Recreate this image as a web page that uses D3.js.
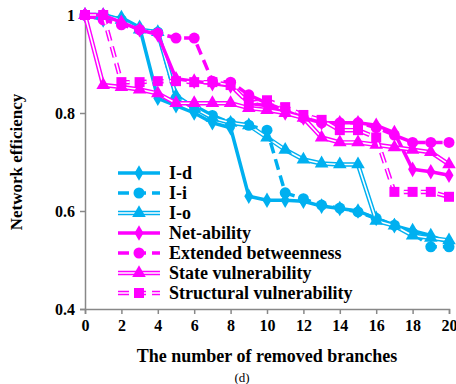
<!DOCTYPE html>
<html>
<head>
<meta charset="utf-8">
<script src="https://cdn.jsdelivr.net/npm/d3@7"></script>
<style>
  body { margin: 0; background: #fff; }
</style>
</head>
<body>
<div id="chart"></div>
<script>
// data
const steps = d3.range(0, 21);
const xTicks = [0, 2, 4, 6, 8, 10, 12, 14, 16, 18, 20];
const yTicks = [0.4, 0.6, 0.8, 1];
const seriesNames = ['I-d', 'I-i', 'I-o', 'Net-ability', 'Extended betweenness', 'State vulnerability', 'Structural vulnerability'];

const iD = [1, 0.99, 0.995, 0.975, 0.83, 0.815, 0.8, 0.78, 0.77, 0.63, 0.622, 0.622, 0.62, 0.61, 0.605, 0.6, 0.585, 0.57, 0.56, 0.55, 0.535];
const iI = [1, 1, 0.99, 0.97, 0.965, 0.83, 0.815, 0.795, 0.78, 0.775, 0.765, 0.637, 0.625, 0.612, 0.606, 0.598, 0.585, 0.571, 0.555, 0.527, 0.527];
const iO = [1, 1, 0.99, 0.97, 0.965, 0.835, 0.81, 0.79, 0.78, 0.775, 0.75, 0.725, 0.705, 0.697, 0.695, 0.695, 0.58, 0.57, 0.55, 0.545, 0.54];
const netAbility = [1, 1, 0.985, 0.97, 0.96, 0.87, 0.865, 0.86, 0.855, 0.82, 0.815, 0.8, 0.79, 0.78, 0.78, 0.78, 0.775, 0.76, 0.685, 0.68, 0.673];
const extBetween = [1, 0.99, 0.98, 0.97, 0.963, 0.953, 0.953, 0.865, 0.863, 0.837, 0.82, 0.805, 0.79, 0.78, 0.78, 0.78, 0.77, 0.755, 0.74, 0.74, 0.74];
const stateVuln = [1, 0.857, 0.853, 0.848, 0.84, 0.82, 0.82, 0.82, 0.82, 0.81, 0.806, 0.8, 0.79, 0.75, 0.74, 0.74, 0.735, 0.73, 0.725, 0.72, 0.695];
const structVuln = [1, 1, 0.863, 0.863, 0.865, 0.865, 0.863, 0.863, 0.857, 0.82, 0.826, 0.812, 0.796, 0.786, 0.765, 0.765, 0.75, 0.639, 0.639, 0.639, 0.629];

const cyan = '#00b0f0', pink = '#ff00ff';
const serif = 'Liberation Serif';
const series = [
  { name: seriesNames[0], values: iD, color: cyan, style: 'solid', shape: d3.symbolDiamond, size: 70 },
  { name: seriesNames[1], values: iI, color: cyan, style: 'dash', shape: d3.symbolCircle, size: 95 },
  { name: seriesNames[2], values: iO, color: cyan, style: 'double', shape: d3.symbolTriangle, size: 80 },
  { name: seriesNames[3], values: netAbility, color: pink, style: 'solid', shape: d3.symbolDiamond, size: 70 },
  { name: seriesNames[4], values: extBetween, color: pink, style: 'dash', shape: d3.symbolCircle, size: 95 },
  { name: seriesNames[5], values: stateVuln, color: pink, style: 'double', shape: d3.symbolTriangle, size: 80 },
  { name: seriesNames[6], values: structVuln, color: pink, style: 'dashdouble', shape: d3.symbolSquare, size: 100 }
];

// set the dimensions
const width = 456, height = 384;
const plot = { left: 85, right: 449, top: 15, bottom: 309 };

const svg = d3.select('#chart')
  .append('svg')
  .attr('width', width)
  .attr('height', height)
  .attr('font-family', serif)
  .attr('font-weight', 'bold');

const x = d3.scaleLinear().domain([0, 20]).range([plot.left, plot.right]);
const y = d3.scaleLinear().domain([0.4, 1]).range([plot.bottom, plot.top]);

// axes
const xAxis = svg.append('g')
  .attr('transform', `translate(0, ${plot.bottom})`)
  .call(d3.axisBottom(x).tickValues(xTicks).tickSize(5).tickPadding(6).tickFormat(d3.format('d')));
const yAxis = svg.append('g')
  .attr('transform', `translate(${plot.left}, 0)`)
  .call(d3.axisLeft(y).tickValues(yTicks).tickSize(5).tickPadding(5).tickFormat(d => d === 1 ? '1' : d3.format('.1f')(d)));

[xAxis, yAxis].forEach(a => {
  a.attr('font-family', serif).attr('font-size', 16);
  a.select('.domain').attr('stroke', '#888').attr('stroke-width', 1.5);
  a.selectAll('.tick line').attr('stroke', '#888').attr('stroke-width', 1.5);
  a.selectAll('.tick text').attr('fill', '#000');
});

// axis titles
svg.append('text')
  .attr('x', 267).attr('y', 362)
  .attr('text-anchor', 'middle')
  .attr('font-size', 18)
  .text('The number of removed branches');

svg.append('text')
  .attr('transform', 'translate(22, 162) rotate(-90)')
  .attr('text-anchor', 'middle')
  .attr('font-size', 17)
  .text('Network efficiency');

svg.append('text')
  .attr('x', 242).attr('y', 382)
  .attr('text-anchor', 'middle')
  .attr('font-size', 13)
  .attr('font-weight', 'normal')
  .text('(d)');

// draws a line in one of the styles
function drawLine(g, pathD, s) {
  if (s.style === 'solid') {
    g.append('path').attr('d', pathD).attr('fill', 'none')
      .attr('stroke', s.color).attr('stroke-width', 3.5).attr('stroke-linejoin', 'round');
  } else if (s.style === 'dash') {
    g.append('path').attr('d', pathD).attr('fill', 'none')
      .attr('stroke', s.color).attr('stroke-width', 3.5).attr('stroke-dasharray', '11,6');
  } else {
    const dash = s.style === 'dashdouble' ? '11,6' : null;
    g.append('path').attr('d', pathD).attr('fill', 'none')
      .attr('stroke', s.color).attr('stroke-width', 4.5).attr('stroke-dasharray', dash).attr('stroke-linejoin', 'round');
    g.append('path').attr('d', pathD).attr('fill', 'none')
      .attr('stroke', '#fff').attr('stroke-width', 1.6).attr('stroke-dasharray', dash).attr('stroke-linejoin', 'round');
  }
}

const line = d3.line().x((d, i) => x(steps[i])).y(d => y(d));

// series lines and markers
series.forEach(s => {
  const g = svg.append('g');
  drawLine(g, line(s.values), s);
  g.selectAll('path.mark')
    .data(s.values)
    .enter()
    .append('path')
    .attr('class', 'mark')
    .attr('d', d3.symbol().type(s.shape).size(s.size))
    .attr('transform', (d, i) => `translate(${x(steps[i])}, ${y(d)})`)
    .attr('fill', s.color);
});

// legend
const legend = svg.append('g');
series.forEach((s, i) => {
  const ly = 173 + i * 20;
  const g = legend.append('g');
  drawLine(g, `M118,${ly}L160,${ly}`, s);
  g.append('path')
    .attr('d', d3.symbol().type(s.shape).size(s.size))
    .attr('transform', `translate(139, ${ly})`)
    .attr('fill', s.color);
  g.append('text')
    .attr('x', 169).attr('y', ly + 6)
    .attr('font-size', 18)
    .text(s.name);
});
</script>
</body>
</html>
